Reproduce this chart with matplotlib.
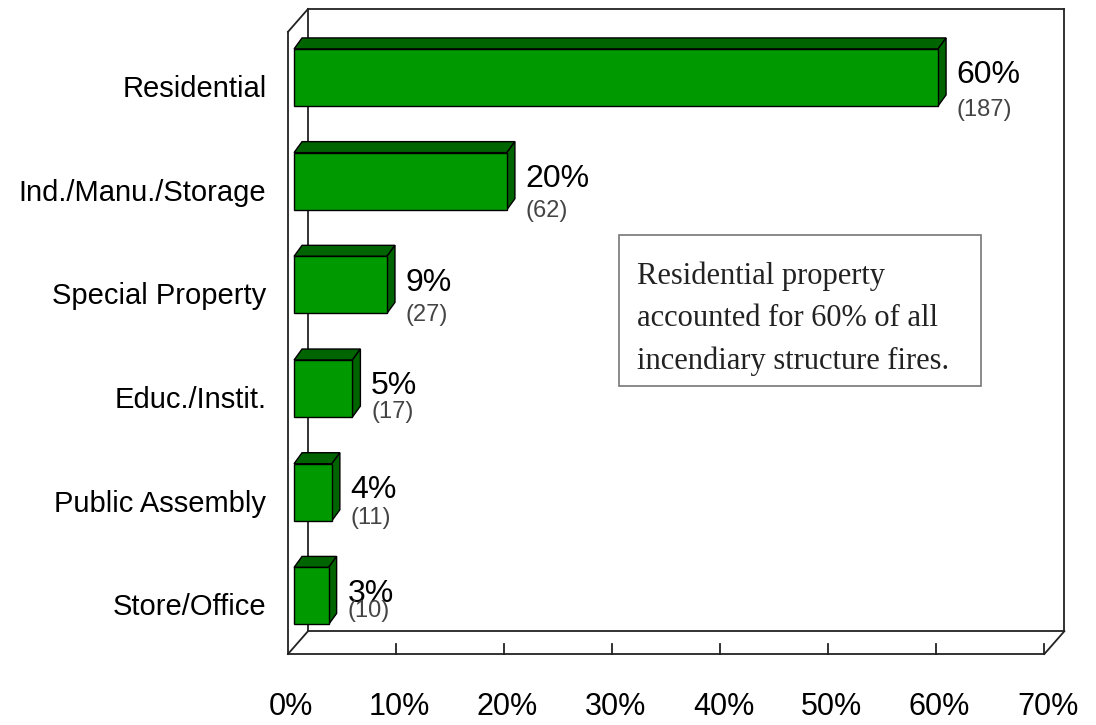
import matplotlib
matplotlib.use('Agg')
import matplotlib.pyplot as plt
from matplotlib.patches import Polygon, Rectangle

# data
categories = ['Residential', 'Ind./Manu./Storage', 'Special Property',
              'Educ./Instit.', 'Public Assembly', 'Store/Office']
percents = [59.6, 19.7, 8.6, 5.4, 3.5, 3.2]
pct_labels = ['60%', '20%', '9%', '5%', '4%', '3%']
counts = [187, 62, 27, 17, 11, 10]
ticks = [0, 10, 20, 30, 40, 50, 60, 70]

# layout / style
count_dy = [0.33, 0.31, 0.31, 0.25, 0.27, 0.17]
front = '#009900'
dark = '#006400'
sans = ['Liberation Sans', 'DejaVu Sans']

fig = plt.figure(figsize=(10.96, 7.25), dpi=100)
ax = fig.add_axes([288 / 1096, 1 - 654 / 725, 778 / 1096, 645 / 725])
ax.set_xlim(0, 72)
ax.set_ylim(5.56, -0.66)
ax.axis('off')

# 3d box
ddx, ddy = 1.85, -0.22
floor, top = 5.56, -0.44
xmax = 70
box_kw = dict(color='#222222', lw=1.3, zorder=1, clip_on=False)
ax.plot([0, xmax], [floor, floor], **box_kw)
ax.plot([ddx, xmax + ddx], [floor + ddy, floor + ddy], **box_kw)
ax.plot([0, ddx], [floor, floor + ddy], **box_kw)
ax.plot([xmax, xmax + ddx], [floor, floor + ddy], **box_kw)
ax.plot([0, 0], [floor, top], **box_kw)
ax.plot([ddx, ddx], [floor + ddy, top + ddy], **box_kw)
ax.plot([0, ddx], [top, top + ddy], **box_kw)
ax.plot([ddx, xmax + ddx], [top + ddy, top + ddy], **box_kw)
ax.plot([xmax + ddx, xmax + ddx], [top + ddy, floor + ddy], **box_kw)
for t in ticks[1:]:
    ax.plot([t, t], [floor, floor - 0.1], **box_kw)

for t in ticks:
    ax.text(t + 0.3, 6.07, f'{t}%', ha='center', va='center',
            fontsize=22, family=sans)

# bars
x0 = 0.56
h = 0.55
bdx, bdy = 0.74, -0.106
for i, (v, lab, c) in enumerate(zip(percents, pct_labels, counts)):
    y1 = i - h / 2
    y2 = i + h / 2
    x1 = x0 + v
    ax.add_patch(Polygon([(x0, y1), (x0 + bdx, y1 + bdy), (x1 + bdx, y1 + bdy), (x1, y1)],
                         closed=True, fc=dark, ec='black', lw=1, zorder=3))
    ax.add_patch(Polygon([(x1, y1), (x1 + bdx, y1 + bdy), (x1 + bdx, y2 + bdy), (x1, y2)],
                         closed=True, fc=dark, ec='black', lw=1, zorder=3))
    ax.add_patch(Rectangle((x0, y1), v, h, fc=front, ec='black', lw=1, zorder=4))
    lx = x1 + bdx + 1.0
    ax.text(lx, i - 0.02, lab, ha='left', va='center', fontsize=23, family=sans, zorder=5)
    ax.text(lx, i - 0.02 + count_dy[i], f'({c})', ha='left', va='center',
            fontsize=17, family=sans, color='#444444', zorder=5)
    ax.text(-2.0, i + 0.11, categories[i], ha='right', va='center',
            fontsize=21, family=sans, clip_on=False)

# note box
ax.add_patch(Rectangle((30.6, 1.52), 33.5, 1.46, fc='white', ec='#777777', lw=1.2, zorder=2))
ax.text(32.3, 2.33, 'Residential property\naccounted for 60% of all\nincendiary structure fires.',
        ha='left', va='center', fontsize=22, family='Liberation Serif',
        linespacing=1.6, color='#222222', zorder=5)

plt.savefig('out.png', dpi=100)
